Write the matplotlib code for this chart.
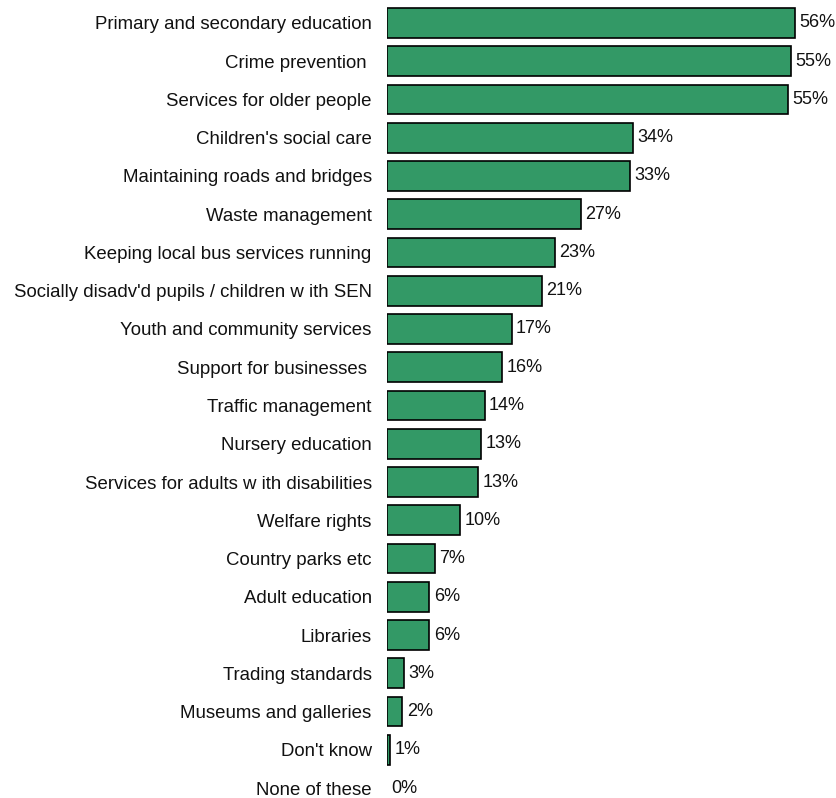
import matplotlib
matplotlib.use('Agg')
import matplotlib.pyplot as plt

plt.rcParams['font.family'] = ['Liberation Sans', 'DejaVu Sans']

# categories, top to bottom
categories = [
    'Primary and secondary education', 'Crime prevention ', 'Services for older people',
    "Children's social care", 'Maintaining roads and bridges', 'Waste management',
    'Keeping local bus services running', "Socially disadv'd pupils / children w ith SEN",
    'Youth and community services', 'Support for businesses ', 'Traffic management',
    'Nursery education', 'Services for adults w ith disabilities', 'Welfare rights',
    'Country parks etc', 'Adult education', 'Libraries', 'Trading standards',
    'Museums and galleries', "Don't know", 'None of these',
]
# estimated bar lengths (%)
values = [56.0, 55.4, 55.0, 33.8, 33.3, 26.6, 23.0, 21.3, 17.1, 15.8, 13.4,
          12.9, 12.5, 10.0, 6.6, 5.8, 5.8, 2.3, 2.1, 0.4, 0.0]
# printed labels
value_labels = ['56%', '55%', '55%', '34%', '33%', '27%', '23%', '21%', '17%', '16%', '14%',
                '13%', '13%', '10%', '7%', '6%', '6%', '3%', '2%', '1%', '0%']

fig = plt.figure(figsize=(8.37, 7.98), dpi=100)
ax = fig.add_axes([387 / 837, 0, 450 / 837, 1])

pos = list(range(len(categories)))
widths = [1.2 if v > 0 else 0 for v in values]
bars = ax.barh(pos, values, height=0.78, color='#339966', edgecolor='black', linewidth=widths)

for b, lab in zip(bars, value_labels):
    ax.text(b.get_width() + 0.6, b.get_y() + b.get_height() / 2, lab,
            va='center', ha='left', fontsize=13, color='#111111')

ax.set_yticks(pos)
ax.set_yticklabels(categories, fontsize=13.4, color='#111111')
ax.tick_params(axis='y', length=0, pad=11)
ax.set_xticks([])
ax.set_xlim(0, 450 / 7.286)
ax.set_ylim(20.26, -0.60)
for s in ax.spines.values():
    s.set_visible(False)

fig.savefig('out.png', dpi=100)
